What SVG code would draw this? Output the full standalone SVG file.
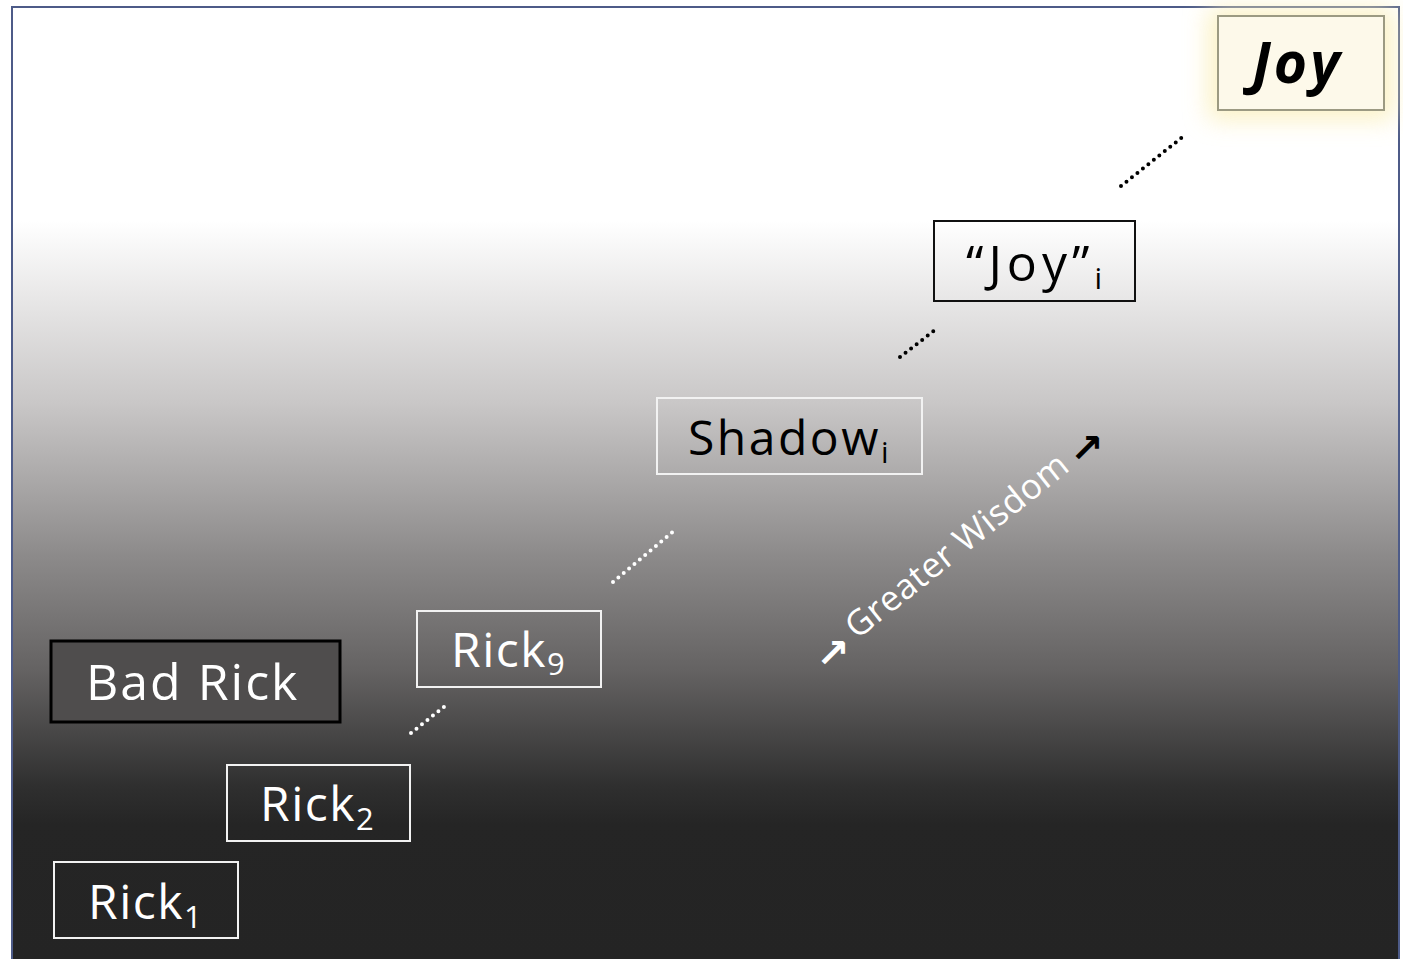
<svg xmlns="http://www.w3.org/2000/svg" width="1403" height="959" viewBox="0 0 1403 959">
<defs>
<linearGradient id="bg" x1="0" y1="0" x2="0" y2="959" gradientUnits="userSpaceOnUse">
<stop offset="0" stop-color="#ffffff"/>
<stop offset="0.23" stop-color="#ffffff"/>
<stop offset="0.42" stop-color="#c9c7c7"/>
<stop offset="0.58" stop-color="#8c8a8a"/>
<stop offset="0.70" stop-color="#646262"/>
<stop offset="0.82" stop-color="#2f2f2f"/>
<stop offset="0.86" stop-color="#252525"/>
<stop offset="1" stop-color="#242424"/>
</linearGradient>
<filter id="glow" x="-50%" y="-50%" width="200%" height="200%">
<feGaussianBlur stdDeviation="12"/>
</filter>
<style>
.t{font-family:"Open Sans","Liberation Sans",sans-serif;}
.a{font-family:"DejaVu Sans",sans-serif;font-size:40px;font-weight:bold;}
.w{fill:#ffffff;}
.k{fill:#000000;}
.wb{fill:none;stroke:#f2f2f2;stroke-width:2;}
.dw{stroke:#ffffff;stroke-width:4;stroke-linecap:round;stroke-dasharray:0 7;fill:none;}
.dk{stroke:#000000;stroke-width:4;stroke-linecap:round;stroke-dasharray:0 7;fill:none;}
</style>
</defs>
<rect x="0" y="0" width="1403" height="959" fill="#ffffff"/>
<rect x="12" y="7" width="1387" height="970" fill="url(#bg)" stroke="#4d5b88" stroke-width="2"/>

<g id="connectors">
<line class="dk" x1="1121" y1="186" x2="1185" y2="135"/>
<line class="dk" x1="900" y1="357" x2="935" y2="330"/>
<line class="dw" x1="613" y1="582" x2="675" y2="530"/>
<line class="dw" x1="411" y1="733" x2="445" y2="706"/>
</g>

<g id="joy">
<rect x="1208" y="8" width="186" height="112" fill="#fbefb8" filter="url(#glow)" opacity="0.8"/>
<rect x="1218" y="16" width="166" height="94" fill="#fdf9ea" stroke="#9c9a82" stroke-width="2"/>
<text class="t k" x="1252" y="83" font-size="57" font-weight="bold" font-style="italic" letter-spacing="3">Joy</text>
</g>

<g id="joy-i">
<rect x="934" y="221" width="201" height="80" fill="none" stroke="#111111" stroke-width="2"/>
<text class="t k" x="966" y="281" font-size="50" letter-spacing="5">“Joy”<tspan font-size="30" dy="8" letter-spacing="0">i</tspan></text>
</g>

<g id="shadow-i">
<rect x="657" y="398" width="265" height="76" class="wb"/>
<text class="t k" x="688" y="455" font-size="48" letter-spacing="2.5">Shadow<tspan font-size="30" dy="8" letter-spacing="0">i</tspan></text>
</g>

<g id="rick9">
<rect x="417" y="611" width="184" height="76" class="wb"/>
<text class="t w" x="451" y="667" font-size="48" letter-spacing="1.5">Rick<tspan font-size="31" dy="8" letter-spacing="0">9</tspan></text>
</g>

<g id="bad-rick">
<rect x="51" y="641" width="289" height="81" fill="#4f4d4d" stroke="#000000" stroke-width="3"/>
<text class="t w" x="86" y="700" font-size="50" letter-spacing="2">Bad Rick</text>
</g>

<g id="rick2">
<rect x="227" y="765" width="183" height="76" class="wb"/>
<text class="t w" x="260" y="821" font-size="48" letter-spacing="1.5">Rick<tspan font-size="31" dy="9" letter-spacing="0">2</tspan></text>
</g>

<g id="rick1">
<rect x="54" y="862" width="184" height="76" class="wb"/>
<text class="t w" x="88" y="919" font-size="48" letter-spacing="1.5">Rick<tspan font-size="31" dy="9" letter-spacing="0">1</tspan></text>
</g>

<g id="wisdom">
<text class="a w" x="816" y="667">↗</text>
<text class="t w" x="0" y="0" font-size="35" letter-spacing="0.5" transform="translate(857,640) rotate(-38.5)">Greater Wisdom</text>
<text class="a k" x="1070" y="462">↗</text>
</g>
</svg>
